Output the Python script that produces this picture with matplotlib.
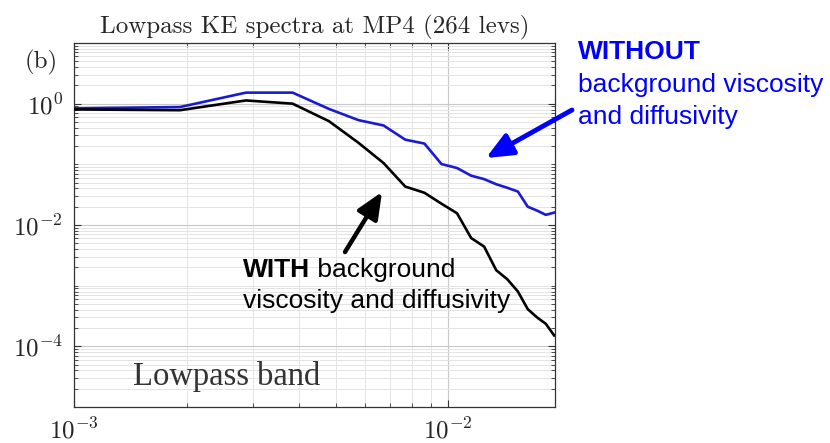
import numpy as np
import matplotlib
matplotlib.use("Agg")
import matplotlib.pyplot as plt
from matplotlib.ticker import FixedLocator, FixedFormatter, NullFormatter

plt.rcParams['mathtext.fontset'] = 'cm'

# wavenumbers (n * dk)
k = [0.96e-3 * n for n in range(1, 21)]
ke_without = [0.835, 0.88, 1.52, 1.52, 0.82, 0.535, 0.437, 0.255, 0.22, 0.101,
              0.087, 0.065, 0.057, 0.047, 0.041, 0.0356, 0.020, 0.0173, 0.0147, 0.016]
ke_with = [0.805, 0.78, 1.13, 1.0, 0.515, 0.226, 0.105, 0.043, 0.034, 0.0224,
           0.0156, 0.0061, 0.0044, 0.0018, 0.00127, 0.0008, 0.00041, 0.0003, 0.000235, 0.000151]

y_major = [1e-4, 1e-2, 1e0]
y_labels = [r'$10^{-4}$', r'$10^{-2}$', r'$10^{0}$']
x_major = [1e-3, 1e-2]
x_labels = [r'$10^{-3}$', r'$10^{-2}$']

fig = plt.figure(figsize=(8.30, 4.43), dpi=100)
ax = fig.add_axes([74/830, 1-407/443, (555-74)/830, (407-43)/443])

ax.plot(k, ke_without, color='#1a1ad2', lw=1.9, zorder=3)
ax.plot(k, ke_with, color='black', lw=1.9, zorder=3)

ax.set_xscale('log')
ax.set_yscale('log')
ax.set_xlim(1e-3, 0.0193)
ax.set_ylim(1e-5, 1e1)

ax.xaxis.set_major_locator(FixedLocator(x_major))
ax.xaxis.set_major_formatter(FixedFormatter(x_labels))
xminor = [m * 10.0**e for e in (-3, -2) for m in range(2, 10)]
ax.xaxis.set_minor_locator(FixedLocator(xminor))
ax.xaxis.set_minor_formatter(NullFormatter())

ax.yaxis.set_major_locator(FixedLocator(y_major))
ax.yaxis.set_major_formatter(FixedFormatter(y_labels))
yminor = [m * 10.0**e for e in range(-5, 1) for m in range(1, 10)] + [10.0]
yminor = [v for v in yminor if v not in y_major]
ax.yaxis.set_minor_locator(FixedLocator(yminor))
ax.yaxis.set_minor_formatter(NullFormatter())

ax.grid(True, which='major', color='#c8c8c8', lw=0.8)
ax.grid(True, which='minor', color='#e4e4e4', lw=0.7)
ax.set_axisbelow(True)

ax.tick_params(which='both', direction='in', top=True, right=True, colors='#333333',
               labelcolor='#262626', labelsize=18)
ax.tick_params(which='major', length=5, width=0.8, pad=8)
ax.tick_params(which='minor', length=3, width=0.6)
for s in ax.spines.values():
    s.set_color('#333333')
    s.set_linewidth(0.9)

ax.set_title('Lowpass KE spectra at MP4 (264 levs)', family='cmr10', fontsize=18,
             color='#262626', pad=7)
fig.text(25/830, 1-62/443, '(b)', family='cmr10', fontsize=18, color='#262626',
         va='center', ha='left')

ax.text(0.122, 0.085, 'Lowpass band', transform=ax.transAxes, family='Liberation Serif',
        fontsize=23.5, color='#333333', va='center', ha='left')

# annotations
fs = 19
fig.text(578/830, 1-52/443, 'WITHOUT', family='Liberation Sans', fontweight='bold',
         fontsize=fs, color='#0000ff', va='center', ha='left')
fig.text(578/830, 1-85/443, 'background viscosity', family='Liberation Sans',
         fontsize=fs, color='#0000ff', va='center', ha='left')
fig.text(578/830, 1-117/443, 'and diffusivity', family='Liberation Sans',
         fontsize=fs, color='#0000ff', va='center', ha='left')

t_with = fig.text(243/830, 1-270/443, 'WITH', family='Liberation Sans', fontweight='bold',
                  fontsize=fs, color='black', va='center', ha='left')
fig.canvas.draw()
bb = t_with.get_window_extent(fig.canvas.get_renderer())
fig.text(bb.x1 / fig.bbox.width, 1-270/443, ' background', family='Liberation Sans',
         fontsize=fs, color='black', va='center', ha='left')
fig.text(243/830, 1-301/443, 'viscosity and diffusivity', family='Liberation Sans',
         fontsize=fs, color='black', va='center', ha='left')

astyle = '-|>,head_length=1.6,head_width=0.7'
ax.annotate('', xy=(486/830, 1-158/443), xytext=(572/830, 1-110/443),
            xycoords='figure fraction', textcoords='figure fraction',
            arrowprops=dict(arrowstyle=astyle, color='#0000ff', lw=3.5,
                            shrinkA=0, shrinkB=0, mutation_scale=10),
            annotation_clip=False)
ax.annotate('', xy=(382/830, 1-192/443), xytext=(345/830, 1-252/443),
            xycoords='figure fraction', textcoords='figure fraction',
            arrowprops=dict(arrowstyle=astyle, color='black', lw=3.2,
                            shrinkA=0, shrinkB=0, mutation_scale=10),
            annotation_clip=False)

fig.savefig('out.png', dpi=100)
